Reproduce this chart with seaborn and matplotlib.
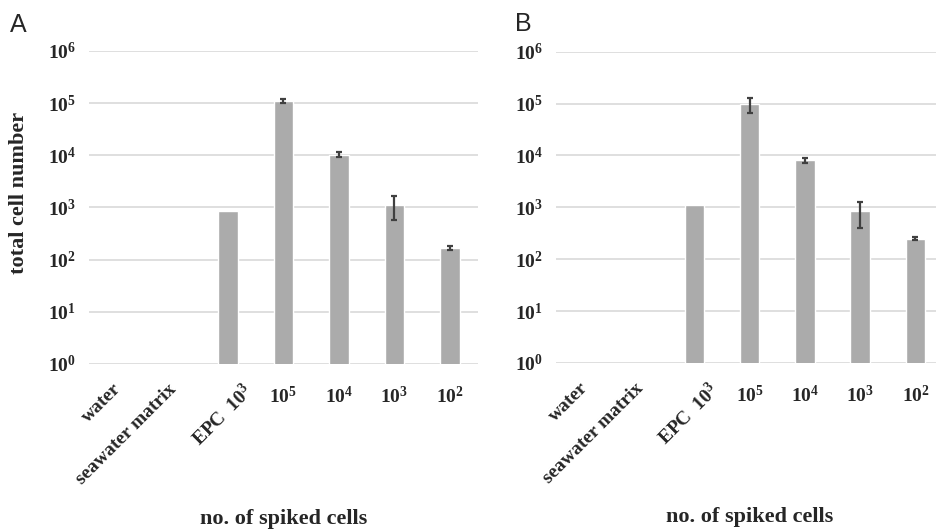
import numpy as np
import matplotlib
matplotlib.use('Agg')
import matplotlib.pyplot as plt
import matplotlib.transforms as mtransforms
import seaborn as sns

categories = ['water', 'seawater matrix', 'EPC  $10^3$', '$10^5$', '$10^4$', '$10^3$', '$10^2$']
cells_a = [0, 0, 850, 1.1e5, 1.03e4, 1130, 165]
err_a = [0, 0, 0, 9000, 1200, 560, 15]
cells_b = [0, 0, 1120, 9.8e4, 8.1e3, 840, 250]
err_b = [0, 0, 0, 3.2e4, 900, 440, 12]
decades = [0, 1, 2, 3, 4, 5, 6]

sns.set_style('white')
plt.rcParams['font.family'] = ['Liberation Serif', 'DejaVu Serif']
plt.rcParams['font.weight'] = 'bold'
plt.rcParams['mathtext.fontset'] = 'custom'
plt.rcParams['mathtext.rm'] = 'Liberation Serif:bold'
plt.rcParams['mathtext.it'] = 'Liberation Serif:bold:italic'
plt.rcParams['mathtext.bf'] = 'Liberation Serif:bold'
plt.rcParams['mathtext.default'] = 'rm'

fig = plt.figure(figsize=(9.36, 5.29), dpi=100)
ax_a = fig.add_axes([0.095, 0.312, 0.4155, 0.5916])
ax_b = fig.add_axes([0.594, 0.314, 0.4136, 0.5883])


def draw_panel(ax, values, errors, show_ylabel):
    ax.set_yscale('log')
    sns.barplot(x=categories, y=values, color='#ababab', width=0.35,
                saturation=1, ax=ax, zorder=2)
    pos = np.arange(len(categories))
    errs = np.array(errors, dtype=float)
    vals = np.array(values, dtype=float)
    m = errs > 0
    ax.errorbar(pos[m], vals[m], yerr=errs[m], fmt='none', ecolor='#404040',
                elinewidth=1.6, capsize=2.5, capthick=1.6, zorder=3)

    ax.set_ylim(1, 1e6)
    ax.set_xlim(-0.5, len(categories) - 0.5)
    ax.set_yticks([10.0 ** k for k in decades])
    ax.set_yticklabels([f'$10^{{{k}}}$' for k in decades])
    ax.yaxis.set_minor_locator(matplotlib.ticker.NullLocator())
    ax.yaxis.grid(True, color='#d9d9d9', lw=1.2)
    ax.set_axisbelow(True)
    for s in ax.spines.values():
        s.set_visible(False)
    ax.tick_params(axis='y', length=0, pad=9.5, labelsize=14)
    ax.tick_params(axis='x', length=0, pad=16, labelsize=14)

    ax.set_xticks(pos)
    ax.set_xticklabels(categories)
    for i, lab in enumerate(ax.get_xticklabels()):
        lab.set_fontweight('bold')
        if i < 3:
            lab.set_rotation(45)
            lab.set_ha('right')
            lab.set_va('top')
            lab.set_rotation_mode('anchor')
            dx = 10 / 72 if i == 2 else -3 / 72
            lab.set_transform(lab.get_transform() +
                              mtransforms.ScaledTranslation(dx, 4 / 72, fig.dpi_scale_trans))

    ax.set_xlabel('')
    if show_ylabel:
        ax.set_ylabel('total cell number', fontsize=16, fontweight='bold',
                      va='center')
        ax.yaxis.set_label_coords(-0.181, 0.546)
    else:
        ax.set_ylabel('')
    ax.text(0.5, -0.495, 'no. of spiked cells', transform=ax.transAxes,
            ha='center', va='center', fontsize=16, fontweight='bold')


draw_panel(ax_a, cells_a, err_a, True)
draw_panel(ax_b, cells_b, err_b, False)

fig.text(18 / 936, 1 - 25 / 529, 'A', family='Liberation Sans', fontweight='normal',
         fontsize=18, ha='center', va='center')
fig.text(523 / 936, 1 - 24 / 529, 'B', family='Liberation Sans', fontweight='normal',
         fontsize=18, ha='center', va='center')

fig.savefig('out.png', dpi=100)
